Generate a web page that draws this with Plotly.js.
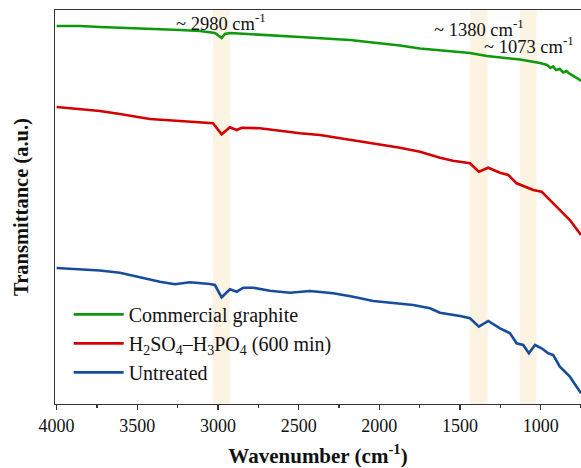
<!DOCTYPE html>
<html>
<head>
<meta charset="utf-8">
<script src="https://cdn.plot.ly/plotly-3.0.1.min.js"></script>
<style>html,body{margin:0;padding:0;background:#fff;}#chart{width:581px;height:468px;}</style>
</head>
<body>
<div id="chart"></div>
<script>
// Wavenumbers (cm^-1) and offset transmittance (a.u.)
const greenWn = [4000, 3856, 3732, 3422, 3236, 3112, 3019, 2977, 2957, 2926, 2740, 2492, 2182, 1872, 1748, 1562, 1438, 1333, 1252, 1128, 1004, 960, 940, 924, 905, 881, 860, 840, 819, 800, 788, 770, 750];
const greenT  = [378, 378, 377, 375.5, 374, 373, 371, 366, 370, 371, 369, 367, 364, 358.5, 355.5, 353, 351, 348, 346.5, 344.5, 341, 339, 336, 337.5, 334, 335, 331.5, 333, 330, 328.5, 327, 325.5, 323];

const redWn = [4000, 3856, 3732, 3608, 3422, 3236, 3031, 2977, 2926, 2884, 2853, 2740, 2616, 2492, 2368, 2244, 2120, 1996, 1872, 1748, 1624, 1544, 1438, 1383, 1325, 1252, 1201, 1149, 1108, 1046, 994, 943, 881, 819, 750];
const redT  = [297, 295, 293, 290, 285, 283, 280.7, 269.7, 276.7, 274, 276.3, 275.7, 273, 270.7, 269, 265.7, 263, 259.7, 256.3, 252.3, 246.3, 243.3, 240.7, 232.3, 236.3, 231.3, 229, 220.7, 218.3, 214, 212.3, 204, 194, 184, 169];

const blueWn = [4000, 3856, 3732, 3608, 3484, 3360, 3267, 3174, 3050, 3019, 2977, 2926, 2884, 2843, 2781, 2678, 2554, 2430, 2286, 2162, 2038, 1914, 1790, 1686, 1624, 1500, 1438, 1383, 1325, 1252, 1190, 1149, 1108, 1073, 1035, 994, 953, 922, 881, 819, 750];
const blueT  = [136, 134.5, 133.5, 131.3, 126.7, 122.3, 119.7, 121.7, 120, 119, 106.7, 114.7, 112.3, 116.3, 116.3, 113.3, 111.3, 113, 110.7, 107.3, 103, 101.3, 99, 95.7, 91.3, 88, 85.7, 77.3, 83, 75.7, 70.7, 60.7, 59, 50.7, 59, 55.7, 50.7, 49, 37.3, 27.3, 10.7];

const seriesNames = ["Commercial graphite", "H<sub>2</sub>SO<sub>4</sub>–H<sub>3</sub>PO<sub>4</sub> (600 min)", "Untreated"];
const seriesColors = ["#0c9a0c", "#d40000", "#164c9c"];

// Highlighted bands (cm^-1) and their labels
const bandLo = [2926, 1329, 1025];
const bandHi = [3031, 1438, 1129];
const peakPos = [2980, 1380, 1073];
const peakLabels = ["~ 2980 cm<sup>-1</sup>", "~ 1380 cm<sup>-1</sup>", "~ 1073 cm<sup>-1</sup>"];
const peakLabelY = [0.97, 0.955, 0.91];

const serif = "Liberation Serif";

const xs = [greenWn, redWn, blueWn];
const ys = [greenT, redT, blueT];
const traces = xs.map((x, i) => ({
  x: x, y: ys[i], type: "scatter", mode: "lines",
  name: seriesNames[i], legendgroup: "g" + i,
  line: {color: seriesColors[i], width: 2.6}
}));

const shapes = bandLo.map((lo, i) => ({
  type: "rect", xref: "x", yref: "paper", x0: lo, x1: bandHi[i], y0: 0, y1: 1,
  fillcolor: "#fcf3e3", line: {width: 0}, layer: "below"
}));

const annotations = peakPos.map((p, i) => ({
  x: p, xref: "x", y: peakLabelY[i], yref: "paper", text: peakLabels[i],
  showarrow: false, xanchor: "center", yanchor: "middle",
  font: {family: serif, size: 18.5, color: "#111"}
}));

const layout = {
  width: 581, height: 468,
  margin: {l: 55, r: 0, t: 10, b: 64},
  paper_bgcolor: "#fff", plot_bgcolor: "#fff",
  font: {family: serif, color: "#111"},
  showlegend: true,
  legend: {x: 0.026, y: 0.277, xanchor: "left", yanchor: "top", bgcolor: "rgba(0,0,0,0)",
           font: {family: serif, size: 20, color: "#111"}, itemwidth: 50, tracegroupgap: 0},
  xaxis: {
    range: [4010, 750], showgrid: false, zeroline: false,
    showline: true, linecolor: "#333", linewidth: 1.4, mirror: true,
    ticks: "outside", ticklen: 5, tickwidth: 1.2, tickcolor: "#333",
    tick0: 0, dtick: 500,
    minor: {dtick: 250, ticks: "outside", ticklen: 3, tickcolor: "#333", showgrid: false},
    tickfont: {family: serif, size: 18, color: "#111"},
    title: {text: "<b>Wavenumber (cm<sup>-1</sup>)</b>", font: {family: serif, size: 21, color: "#111"}, standoff: 14}
  },
  yaxis: {
    range: [0, 394], showgrid: false, zeroline: false,
    showline: true, linecolor: "#333", linewidth: 1.4, mirror: false,
    showticklabels: false, ticks: "",
    title: {text: "<b>Transmittance (a.u.)</b>", font: {family: serif, size: 20.5, color: "#111"}, standoff: 19}
  },
  shapes: shapes,
  annotations: annotations
};

Plotly.newPlot("chart", traces, layout, {displayModeBar: false, staticPlot: true});
</script>
</body>
</html>
